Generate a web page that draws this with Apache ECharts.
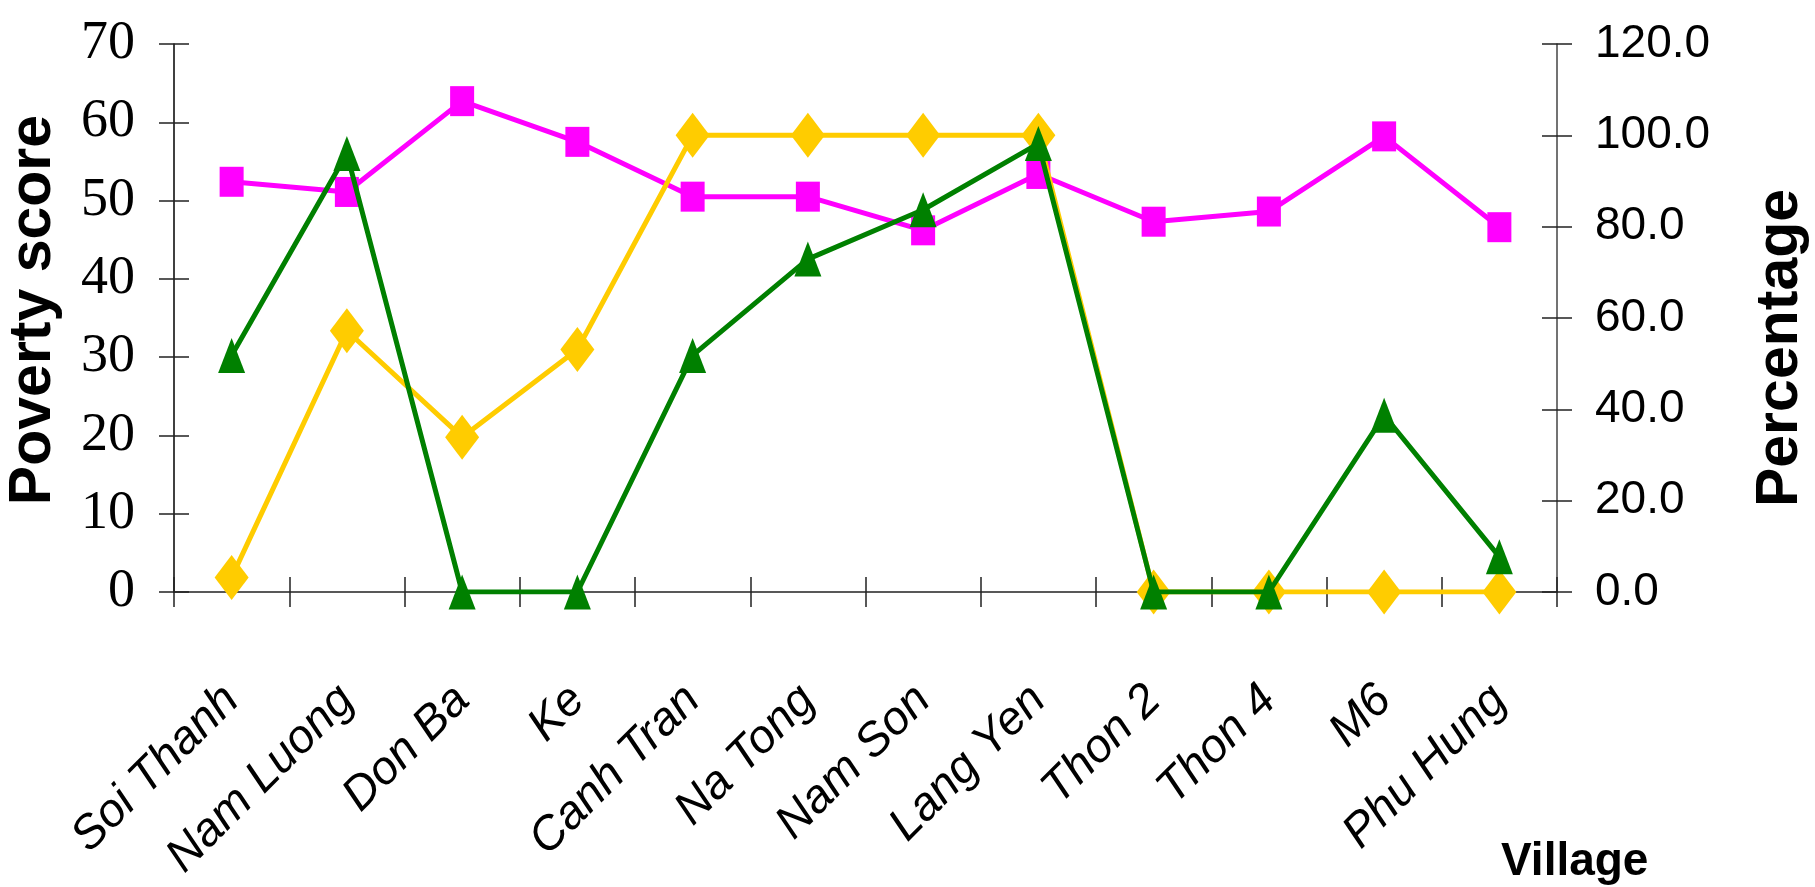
<!DOCTYPE html>
<html>
<head>
<meta charset="utf-8">
<script src="https://cdn.jsdelivr.net/npm/echarts@6/dist/echarts.min.js"></script>
<style>
html,body{margin:0;padding:0;background:#fff;}
#chart{width:1815px;height:887px;}
</style>
</head>
<body>
<div id="chart"></div>
<script>
var categories = ['Soi Thanh','Nam Luong','Don Ba','Ke','Canh Tran','Na Tong','Nam Son','Lang Yen','Thon 2','Thon 4','M6','Phu Hung'];
var povertyScore = [52.4, 51.1, 62.7, 57.5, 50.5, 50.5, 46.2, 53.4, 47.3, 48.6, 58.2, 46.6];
var percentYellow = [3.2, 57.2, 33.9, 53.1, 100, 100, 100, 100, 0, 0, 0, 0];
var percentGreen = [51.8, 96.0, 0, 0, 51.8, 72.9, 83.7, 98.2, 0, 0, 38.7, 7.7];
var leftTitle = 'Poverty score';
var rightTitle = 'Percentage';
var xTitle = 'Village';

var chart = echarts.init(document.getElementById('chart'));
var axisColor = '#222';
var option = {
  animation: false,
  backgroundColor: '#fff',
  grid: {left: 174, right: 258, top: 44, bottom: 295, containLabel: false, outerBoundsMode: 'none'},
  xAxis: [
    {
      type: 'category', data: categories, position: 'bottom',
      axisLine: {show: true, lineStyle: {color: axisColor, width: 1.5}},
      axisTick: {show: true, inside: false, length: 15, lineStyle: {color: axisColor, width: 1.5}},
      axisLabel: {rotate: 45, margin: 101, fontFamily: 'Liberation Sans', fontStyle: 'italic', fontSize: 47, color: '#000'},
      splitLine: {show: false}
    },
    {
      type: 'category', data: categories, position: 'bottom',
      axisLine: {show: false},
      axisTick: {show: true, inside: true, length: 15, lineStyle: {color: axisColor, width: 1.5}},
      axisLabel: {show: false},
      splitLine: {show: false}
    }
  ],
  yAxis: [
    {
      type: 'value', position: 'left', min: 0, max: 70, interval: 10,
      axisLine: {show: true, lineStyle: {color: '#000', width: 1.5}},
      axisTick: {show: true, inside: false, length: 15, lineStyle: {color: axisColor, width: 1.5}},
      axisLabel: {margin: 39, fontFamily: 'Liberation Serif', fontSize: 54, color: '#000'},
      splitLine: {show: false}
    },
    {
      type: 'value', position: 'right', min: 0, max: 120, interval: 20,
      axisLine: {show: true, lineStyle: {color: '#444', width: 1.5}},
      axisTick: {show: true, inside: false, length: 15, lineStyle: {color: axisColor, width: 1.5}},
      axisLabel: {margin: 38, fontFamily: 'Liberation Sans', fontSize: 46, color: '#000',
        formatter: function (v) { return v.toFixed(1); }},
      splitLine: {show: false}
    },
    {
      type: 'value', position: 'left', min: 0, max: 70, interval: 10,
      axisLine: {show: false},
      axisTick: {show: true, inside: true, length: 15, lineStyle: {color: axisColor, width: 1.5}},
      axisLabel: {show: false},
      splitLine: {show: false}
    },
    {
      type: 'value', position: 'right', min: 0, max: 120, interval: 20,
      axisLine: {show: false},
      axisTick: {show: true, inside: true, length: 15, lineStyle: {color: axisColor, width: 1.5}},
      axisLabel: {show: false},
      splitLine: {show: false}
    }
  ],
  series: [
    {
      name: 'Poverty score', type: 'line', xAxisIndex: 0, yAxisIndex: 0, data: povertyScore,
      symbol: 'rect', symbolSize: [24, 30], showAllSymbol: true,
      lineStyle: {color: '#FF00FF', width: 5}, itemStyle: {color: '#FF00FF'}, z: 2
    },
    {
      name: 'Percentage A', type: 'line', xAxisIndex: 0, yAxisIndex: 1, data: percentYellow,
      symbol: 'diamond', symbolSize: [34, 45], showAllSymbol: true,
      lineStyle: {color: '#FFCC00', width: 5}, itemStyle: {color: '#FFCC00'}, z: 3
    },
    {
      name: 'Percentage B', type: 'line', xAxisIndex: 0, yAxisIndex: 1, data: percentGreen,
      symbol: 'triangle', symbolSize: [27, 35], showAllSymbol: true,
      lineStyle: {color: '#008000', width: 5}, itemStyle: {color: '#008000'}, z: 4
    }
  ],
  graphic: [
    {type: 'text', x: 34, y: 310, rotation: Math.PI / 2,
      style: {text: leftTitle, fontFamily: 'Liberation Sans', fontWeight: 'bold', fontSize: 59, fill: '#000', textAlign: 'center', textVerticalAlign: 'middle'}},
    {type: 'text', x: 1781, y: 348, rotation: Math.PI / 2,
      style: {text: rightTitle, fontFamily: 'Liberation Sans', fontWeight: 'bold', fontSize: 59, fill: '#000', textAlign: 'center', textVerticalAlign: 'middle'}},
    {type: 'text', x: 1501, y: 862,
      style: {text: xTitle, fontFamily: 'Liberation Sans', fontWeight: 'bold', fontSize: 46, fill: '#000', textAlign: 'left', textVerticalAlign: 'middle'}}
  ]
};
chart.setOption(option);
</script>
</body>
</html>
